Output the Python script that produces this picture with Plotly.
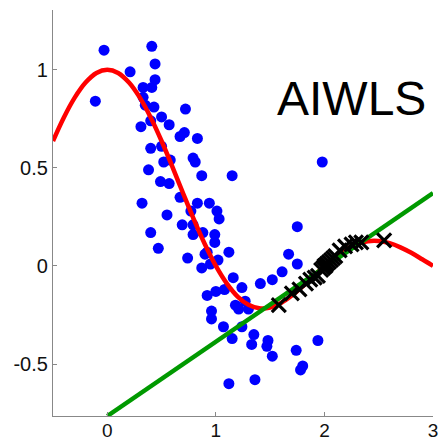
import plotly.graph_objects as go

# Training samples (blue)
train_x = [-0.03, 0.41, 0.21, 0.44, 0.44, -0.11, 0.33, 0.41, 0.33, 0.35, 0.43, 0.72, 0.50, 0.40,
           0.31, 0.57, 0.67, 0.71, 0.83, 0.50, 0.40, 0.79, 0.81, 0.87, 0.52, 0.58, 0.38, 0.49,
           0.57, 0.67, 0.32, 0.83, 0.94, 0.77, 0.55, 1.01, 1.03, 0.69, 0.79, 0.79, 0.88, 0.40,
           0.47, 0.74, 0.90, 0.87, 1.15, 1.98, 1.75, 0.99, 1.12, 1.67, 0.99, 0.92, 1.02, 1.75,
           0.95, 1.61, 1.16, 1.24, 1.41, 1.52, 1.08, 1.00, 0.92, 1.27, 1.18, 1.30, 1.21, 0.96,
           0.96, 1.07, 1.24, 1.15, 1.35, 1.33, 1.48, 1.47, 1.52, 1.74, 1.94, 1.78, 1.80, 1.12,
           1.36]
train_y = [1.10, 1.12, 0.99, 1.03, 0.95, 0.84, 0.91, 0.91, 0.86, 0.82, 0.81, 0.80, 0.76, 0.74,
           0.71, 0.72, 0.66, 0.68, 0.65, 0.61, 0.60, 0.55, 0.53, 0.46, 0.53, 0.54, 0.49, 0.43,
           0.42, 0.35, 0.32, 0.32, 0.32, 0.28, 0.26, 0.28, 0.24, 0.21, 0.21, 0.16, 0.17, 0.17,
           0.09, 0.04, 0.06, -0.01, 0.46, 0.53, 0.20, 0.16, 0.07, 0.06, 0.12, 0.07, 0.03, 0.01,
           0.01, -0.03, -0.06, -0.11, -0.09, -0.07, -0.12, -0.13, -0.15, -0.18, -0.20, -0.22, -0.22, -0.23,
           -0.27, -0.31, -0.31, -0.37, -0.35, -0.40, -0.38, -0.41, -0.46, -0.43, -0.38, -0.53, -0.51, -0.60,
           -0.58]

# Test samples (black crosses)
test_x = [1.58, 1.70, 1.77, 1.83, 1.87, 1.91, 1.94, 1.97, 1.99, 2.00, 2.01, 2.02, 2.04, 2.06,
          2.08, 2.10, 2.14, 2.19, 2.25, 2.29, 2.34, 2.55]
test_y = [-0.20, -0.14, -0.12, -0.09, -0.07, -0.06, -0.05, -0.02, -0.01, 0.00, 0.00, 0.01, 0.02, 0.03,
          0.04, 0.05, 0.08, 0.10, 0.11, 0.12, 0.12, 0.13]

# True function (red)
curve_x = [-0.5, -0.4, -0.3, -0.2, -0.1, 0.0, 0.1, 0.2, 0.3, 0.4, 0.5, 0.6, 0.7, 0.8, 0.9, 1.0,
           1.1, 1.2, 1.3, 1.4, 1.5, 1.6, 1.7, 1.8, 1.9, 2.0, 2.1, 2.2, 2.3, 2.4, 2.5, 2.6, 2.7,
           2.8, 2.9, 3.0]
curve_y = [0.637, 0.757, 0.858, 0.935, 0.984, 1.0, 0.984, 0.935, 0.858, 0.757, 0.637, 0.505, 0.368,
           0.234, 0.109, 0.0, -0.089, -0.156, -0.198, -0.216, -0.212, -0.189, -0.151, -0.104, -0.052,
           0.0, 0.047, 0.085, 0.112, 0.126, 0.127, 0.116, 0.095, 0.067, 0.034, 0.0]

# Learned linear model (green)
fit_x = [0.0, 3.0]
fit_y = [-0.765, 0.372]

x_ticks = [0, 1, 2, 3]
x_labels = ["0", "1", "2", "3"]
y_ticks = [-0.5, 0, 0.5, 1]
y_labels = ["-0.5", "0", "0.5", "1"]
title_text = "AIWLS"

FONT = "Arial, 'Liberation Sans', Helvetica, sans-serif"

fig = go.Figure()
fig.add_trace(go.Scatter(x=train_x, y=train_y, mode="markers",
                         marker=dict(color="#0000ff", size=11, line=dict(width=0)),
                         cliponaxis=False, showlegend=False))
fig.add_trace(go.Scatter(x=curve_x, y=curve_y, mode="lines", line=dict(color="#ff0000", width=4.5, shape="spline"),
                         showlegend=False))
fig.add_trace(go.Scatter(x=fit_x, y=fit_y, mode="lines", line=dict(color="#009900", width=4.5),
                         showlegend=False))
fig.add_trace(go.Scatter(x=test_x, y=test_y, mode="markers",
                         marker=dict(symbol="x-thin", color="black", size=14,
                                     line=dict(width=3.2, color="black")),
                         showlegend=False))

fig.add_annotation(x=1.545, y=0.852, xref="x", yref="y", text=title_text, showarrow=False,
                   xanchor="left", yanchor="middle", font=dict(family=FONT, size=48, color="black"))

axis_common = dict(showgrid=False, zeroline=False, showline=True, linecolor="#888888", linewidth=1.3,
                   ticks="inside", ticklen=4, tickcolor="#888888", tickwidth=1.3, automargin=False,
                   mirror=False)

fig.update_layout(
    width=441, height=443,
    margin=dict(l=53, r=8, t=10, b=27),
    paper_bgcolor="white", plot_bgcolor="white",
    xaxis=dict(range=[-0.5, 3.0], tickvals=x_ticks, ticktext=x_labels, ticklabelstandoff=-3,
               tickfont=dict(family=FONT, size=19, color="#111111"), **axis_common),
    yaxis=dict(range=[-0.765, 1.305], tickvals=y_ticks, ticktext=y_labels,
               tickfont=dict(family=FONT, size=20, color="#111111"), **axis_common),
)

fig.write_html("out.html")
